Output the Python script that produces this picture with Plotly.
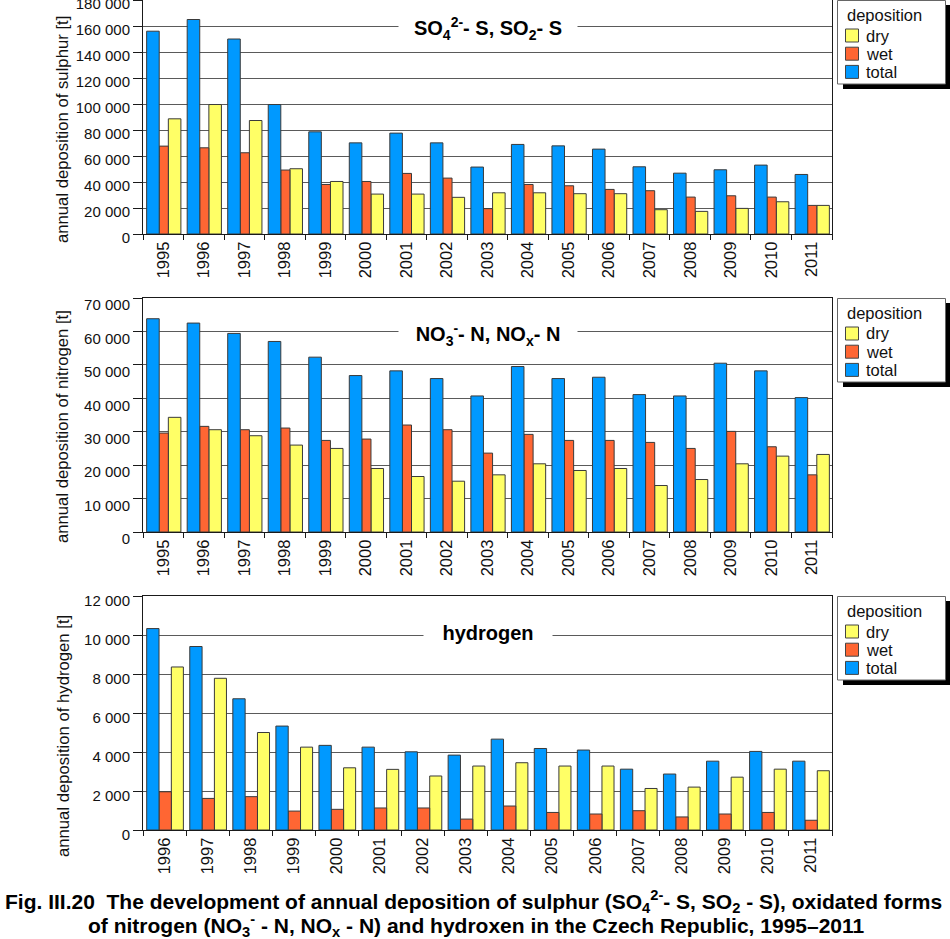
import plotly.graph_objects as go

# ---------------- data ----------------
years_sn = ["1995", "1996", "1997", "1998", "1999", "2000", "2001", "2002", "2003",
            "2004", "2005", "2006", "2007", "2008", "2009", "2010", "2011"]
years_h = ["1996", "1997", "1998", "1999", "2000", "2001", "2002", "2003",
           "2004", "2005", "2006", "2007", "2008", "2009", "2010", "2011"]

sulphur_dry = [88600, 99600, 87300, 50200, 40400, 30700, 30700, 28200, 31700,
               31700, 31000, 31000, 18700, 17400, 19700, 24800, 22000]
sulphur_wet = [67600, 66300, 62500, 49200, 38100, 40400, 46600, 43000, 19500,
               38100, 37100, 34300, 33300, 28400, 29400, 28400, 22000]
sulphur_total = [156000, 165000, 150000, 99600, 78600, 70100, 77600, 70100, 51500,
                 68900, 67800, 65300, 51700, 46800, 49400, 53000, 45800]

nitrogen_dry = [34300, 30600, 28800, 26000, 25000, 19000, 16600, 15200, 17100,
                20400, 18400, 19000, 13900, 15700, 20400, 22700, 23200]
nitrogen_wet = [29600, 31600, 30600, 31100, 27400, 27800, 32000, 30600, 23600,
                29200, 27400, 27400, 26800, 25000, 30100, 25500, 17100]
nitrogen_total = [63800, 62500, 59400, 57000, 52300, 46800, 48200, 45900, 40700,
                  49500, 45900, 46300, 41100, 40700, 50500, 48200, 40200]

hydrogen_dry = [8360, 7780, 5000, 4250, 3190, 3110, 2770, 3280,
                3450, 3280, 3280, 2130, 2200, 2710, 3120, 3040]
hydrogen_wet = [1960, 1620, 1710, 970, 1060, 1130, 1130, 560,
                1230, 900, 820, 990, 670, 820, 900, 500]
hydrogen_total = [10330, 9410, 6730, 5330, 4340, 4250, 4010, 3840,
                  4660, 4180, 4100, 3120, 2870, 3530, 4030, 3530]

series_names = ["dry", "wet", "total"]
legend_title = "deposition"
y_titles = ["annual deposition of sulphur [t]",
            "annual deposition of nitrogen [t]",
            "annual deposition of hydrogen [t]"]
panel_titles = ["<b>SO<sub>4</sub><sup>2-</sup>- S, SO<sub>2</sub>- S</b>",
                "<b>NO<sub>3</sub><sup>-</sup>- N, NO<sub>x</sub>- N</b>",
                "<b>hydrogen</b>"]
caption_1 = ("<b>Fig. III.20  The development of annual deposition of sulphur "
             "(SO<sub>4</sub><sup>2-</sup>- S, SO<sub>2</sub> - S), oxidated forms</b>")
caption_2 = ("<b>of nitrogen (NO<sub>3</sub><sup>-</sup> - N, NO<sub>x</sub> - N) "
             "and hydroxen in the Czech Republic, 1995–2011</b>")

# ---------------- styles ----------------
W, H = 950, 939
FONT = "Liberation Sans, Arial, sans-serif"
COLORS = {"dry": "#ffff66", "wet": "#ff6633", "total": "#0099ff"}
BAR_LINE = "#3a3a3a"
GRID = "#5a5a5a"
AXIS = "#1a1a1a"
TXT = "#111111"

def fx(px):
    return px / W

def fy(py):
    return 1 - py / H

X_LEFT, X_RIGHT = 143, 832

panels = [
    dict(x=years_sn, data=[sulphur_dry, sulphur_wet, sulphur_total],
         top=0, bottom=234, ymax=180000, dtick=20000, shift=4,
         title_y=160000, title_shift=-2, title_w=178, ytitle_c=130,
         geom={"dry": (0.125, 0.31), "wet": (-0.10, 0.225), "total": (-0.41, 0.31)}),
    dict(x=years_sn, data=[nitrogen_dry, nitrogen_wet, nitrogen_total],
         top=298, bottom=532, ymax=70000, dtick=10000, shift=7,
         title_y=60000, title_shift=-3, title_w=178, ytitle_c=427,
         geom={"dry": (0.125, 0.31), "wet": (-0.10, 0.225), "total": (-0.41, 0.31)}),
    dict(x=years_h, data=[hydrogen_dry, hydrogen_wet, hydrogen_total],
         top=596, bottom=830, ymax=12000, dtick=2000, shift=5,
         title_y=10000, title_shift=2, title_w=128, ytitle_c=736,
         geom={"dry": (0.158, 0.28), "wet": (-0.128, 0.286), "total": (-0.414, 0.286)}),
]

fig = go.Figure()
layout = dict(
    width=W, height=H, autosize=False,
    margin=dict(l=0, r=0, t=0, b=0, pad=0),
    paper_bgcolor="white", plot_bgcolor="white",
    barmode="overlay", showlegend=False,
    separators=". ",
    font=dict(family=FONT, color=TXT),
)
annotations = []
shapes = []

for i, p in enumerate(panels, start=1):
    xa = "x" if i == 1 else f"x{i}"
    ya = "y" if i == 1 else f"y{i}"
    for name, vals in zip(series_names, p["data"]):
        off, wid = p["geom"][name]
        fig.add_trace(go.Bar(
            x=p["x"], y=vals, name=name, xaxis=xa, yaxis=ya,
            offset=off, width=wid,
            marker=dict(color=COLORS[name], line=dict(color=BAR_LINE, width=1)),
        ))
    xkey = "xaxis" if i == 1 else f"xaxis{i}"
    ykey = "yaxis" if i == 1 else f"yaxis{i}"
    layout[xkey] = dict(
        domain=[fx(X_LEFT), fx(X_RIGHT)], anchor=ya, type="category",
        categoryorder="array", categoryarray=p["x"],
        tickson="boundaries", ticks="outside", ticklen=5, tickcolor=AXIS,
        tickangle=-90, tickfont=dict(family=FONT, size=16.5, color=TXT),
        showgrid=False, showline=True, linecolor=AXIS, linewidth=1, mirror=True,
        zeroline=False, fixedrange=True, automargin=False,
    )
    layout[ykey] = dict(
        domain=[fy(p["bottom"]), fy(p["top"])], anchor=xa,
        range=[0, p["ymax"]], dtick=p["dtick"], tick0=0,
        separatethousands=True, tickformat=",d",
        ticks="outside", ticklen=9, tickcolor=AXIS,
        tickfont=dict(family=FONT, size=15, color=TXT),
        ticklabelshift=p["shift"], ticklabeloverflow="allow",
        showgrid=True, gridcolor=GRID, gridwidth=1,
        showline=True, linecolor=AXIS, linewidth=1, mirror=True,
        zeroline=False, fixedrange=True, automargin=False,
    )
    # y-axis title
    annotations.append(dict(
        text=y_titles[i - 1], xref="paper", yref="paper",
        x=fx(63), y=fy(p["ytitle_c"]), xanchor="center", yanchor="middle",
        textangle=-90, showarrow=False,
        font=dict(family=FONT, size=16.7, color=TXT),
    ))
    # panel title with white background interrupting the gridline
    annotations.append(dict(
        text=panel_titles[i - 1], xref="paper", yref=ya,
        x=fx(488), y=p["title_y"], yshift=p["title_shift"],
        xanchor="center", yanchor="middle", showarrow=False,
        width=p["title_w"], align="center", bgcolor="white", borderpad=0,
        font=dict(family=FONT, size=20, color="#000000"),
    ))
    # legend (box + shadow + entries)
    t = p["top"]
    shapes.append(dict(type="rect", xref="paper", yref="paper",
                       x0=fx(843), x1=fx(950), y0=fy(t + 89), y1=fy(t + 5),
                       fillcolor="#000000", line=dict(width=0), layer="above"))
    shapes.append(dict(type="rect", xref="paper", yref="paper",
                       x0=fx(837.5), x1=fx(945.5), y0=fy(t + 84), y1=fy(t + 0.5),
                       fillcolor="white", line=dict(color="#666666", width=1),
                       layer="above"))
    annotations.append(dict(
        text=legend_title, xref="paper", yref="paper",
        x=fx(845), y=fy(t + 15), xanchor="left", yanchor="middle",
        showarrow=False, font=dict(family=FONT, size=16.5, color=TXT),
    ))
    for k, name in enumerate(series_names):
        cy = t + 35.5 + k * 18.2
        shapes.append(dict(type="rect", xref="paper", yref="paper",
                           x0=fx(845.5), x1=fx(858.5), y0=fy(cy + 6.5), y1=fy(cy - 6.5),
                           fillcolor=COLORS[name], line=dict(color="#444444", width=1),
                           layer="above"))
        annotations.append(dict(
            text=name, xref="paper", yref="paper",
            x=fx(864), y=fy(cy), xanchor="left", yanchor="middle",
            showarrow=False, font=dict(family=FONT, size=16.5, color=TXT),
        ))

# caption
annotations.append(dict(
    text=caption_1, xref="paper", yref="paper", x=fx(473), y=fy(901),
    xanchor="center", yanchor="middle", showarrow=False,
    font=dict(family=FONT, size=21, color="#000000"),
))
annotations.append(dict(
    text=caption_2, xref="paper", yref="paper", x=fx(476), y=fy(925),
    xanchor="center", yanchor="middle", showarrow=False,
    font=dict(family=FONT, size=21, color="#000000"),
))

layout["annotations"] = annotations
layout["shapes"] = shapes
fig.update_layout(**layout)
fig.write_html(
    "out.html",
    config={"displayModeBar": False},
    post_script="document.body.style.margin='0px';document.body.style.overflow='hidden';",
)
